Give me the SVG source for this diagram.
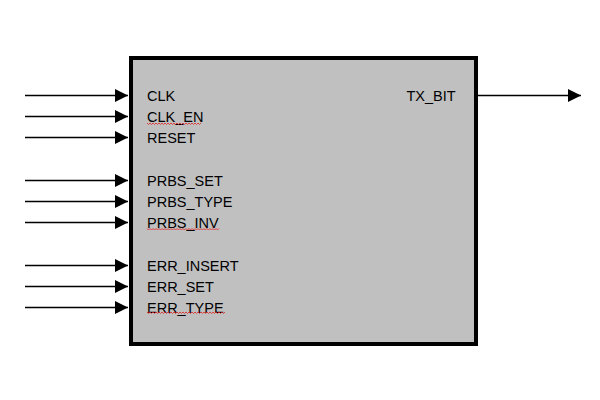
<svg xmlns="http://www.w3.org/2000/svg" width="600" height="400" viewBox="0 0 600 400">
<style>
text{font-family:"Liberation Sans",Arial,sans-serif;font-size:14.5px;fill:#000}
.w{fill:none;stroke:#000;stroke-width:1.3}
.sq{fill:none;stroke:#e02020;stroke-width:0.8}
</style>
<defs>
<marker id="ah" markerWidth="13" markerHeight="13" refX="13" refY="6.5" orient="auto" markerUnits="userSpaceOnUse">
<path d="M0,0 L13,6.5 L0,13 Z" fill="#000"/>
</marker>
</defs>
<rect width="600" height="400" fill="#fff"/>
<g id="block">
<rect x="131" y="58" width="345" height="286" fill="#c0c0c0" stroke="#000" stroke-width="4"/>
<text x="147" y="101">CLK</text>
<text x="147" y="122">CLK_EN</text>
<text x="147" y="142.5">RESET</text>
<text x="147" y="186">PRBS_SET</text>
<text x="147" y="206.5">PRBS_TYPE</text>
<text x="147" y="227.5">PRBS_INV</text>
<text x="147" y="270.5">ERR_INSERT</text>
<text x="147" y="291.5">ERR_SET</text>
<text x="147" y="312.5">ERR_TYPE</text>
<text x="406.5" y="101">TX_BIT</text>
<path class="sq" d="M147,123 l1.5,1.5 l1.5,-1.5 l1.5,1.5 l1.5,-1.5 l1.5,1.5 l1.5,-1.5 l1.5,1.5 l1.5,-1.5 l1.5,1.5 l1.5,-1.5 l1.5,1.5 l1.5,-1.5 l1.5,1.5 l1.5,-1.5 l1.5,1.5 l1.5,-1.5 l1.5,1.5 l1.5,-1.5 l1.5,1.5 l1.5,-1.5 l1.5,1.5 l1.5,-1.5 l1.5,1.5 l1.5,-1.5 l1.5,1.5 l1.5,-1.5 l1.5,1.5 l1.5,-1.5 l1.5,1.5 l1.5,-1.5 l1.5,1.5 l1.5,-1.5 l1.5,1.5 l1.5,-1.5 l1.5,1.5 l1.5,-1.5"/>
<path class="sq" d="M147,228.5 l1.5,1.5 l1.5,-1.5 l1.5,1.5 l1.5,-1.5 l1.5,1.5 l1.5,-1.5 l1.5,1.5 l1.5,-1.5 l1.5,1.5 l1.5,-1.5 l1.5,1.5 l1.5,-1.5 l1.5,1.5 l1.5,-1.5 l1.5,1.5 l1.5,-1.5 l1.5,1.5 l1.5,-1.5 l1.5,1.5 l1.5,-1.5 l1.5,1.5 l1.5,-1.5 l1.5,1.5 l1.5,-1.5 l1.5,1.5 l1.5,-1.5 l1.5,1.5 l1.5,-1.5 l1.5,1.5 l1.5,-1.5 l1.5,1.5 l1.5,-1.5 l1.5,1.5 l1.5,-1.5 l1.5,1.5 l1.5,-1.5 l1.5,1.5 l1.5,-1.5 l1.5,1.5 l1.5,-1.5 l1.5,1.5 l1.5,-1.5 l1.5,1.5 l1.5,-1.5 l1.5,1.5 l1.5,-1.5 l1.5,1.5 l1.5,-1.5"/>
<path class="sq" d="M147,312 l1.5,1.5 l1.5,-1.5 l1.5,1.5 l1.5,-1.5 l1.5,1.5 l1.5,-1.5 l1.5,1.5 l1.5,-1.5 l1.5,1.5 l1.5,-1.5 l1.5,1.5 l1.5,-1.5 l1.5,1.5 l1.5,-1.5 l1.5,1.5 l1.5,-1.5 l1.5,1.5 l1.5,-1.5 l1.5,1.5 l1.5,-1.5 l1.5,1.5 l1.5,-1.5 l1.5,1.5 l1.5,-1.5 l1.5,1.5 l1.5,-1.5 l1.5,1.5 l1.5,-1.5 l1.5,1.5 l1.5,-1.5 l1.5,1.5 l1.5,-1.5 l1.5,1.5 l1.5,-1.5 l1.5,1.5 l1.5,-1.5 l1.5,1.5 l1.5,-1.5 l1.5,1.5 l1.5,-1.5 l1.5,1.5 l1.5,-1.5 l1.5,1.5 l1.5,-1.5 l1.5,1.5 l1.5,-1.5 l1.5,1.5 l1.5,-1.5 l1.5,1.5 l1.5,-1.5 l1.5,1.5 l1.5,-1.5"/>
</g>
<g id="connectors">
<line class="w" x1="25" y1="95.5" x2="128" y2="95.5" marker-end="url(#ah)"/>
<line class="w" x1="25" y1="116.5" x2="128" y2="116.5" marker-end="url(#ah)"/>
<line class="w" x1="25" y1="137.5" x2="128" y2="137.5" marker-end="url(#ah)"/>
<line class="w" x1="25" y1="180.5" x2="128" y2="180.5" marker-end="url(#ah)"/>
<line class="w" x1="25" y1="201.5" x2="128" y2="201.5" marker-end="url(#ah)"/>
<line class="w" x1="25" y1="222.5" x2="128" y2="222.5" marker-end="url(#ah)"/>
<line class="w" x1="25" y1="265.5" x2="128" y2="265.5" marker-end="url(#ah)"/>
<line class="w" x1="25" y1="286.5" x2="128" y2="286.5" marker-end="url(#ah)"/>
<line class="w" x1="25" y1="307.5" x2="128" y2="307.5" marker-end="url(#ah)"/>
<line class="w" x1="478" y1="95.5" x2="581" y2="95.5" marker-end="url(#ah)"/>
</g>
</svg>
